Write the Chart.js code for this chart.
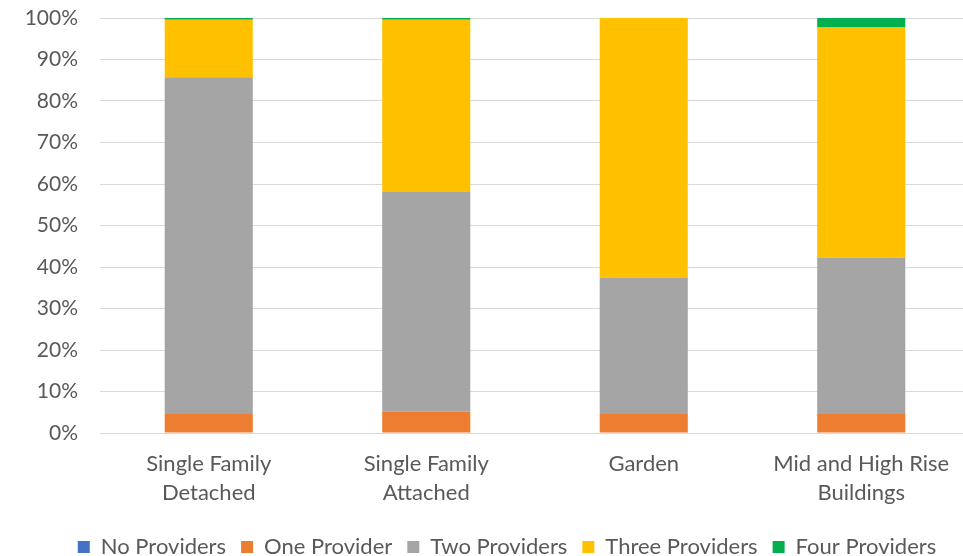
<!DOCTYPE html>
<html>
<head>
<meta charset="utf-8">
<script src="https://cdn.jsdelivr.net/npm/chart.js@4"></script>
<style>
html,body{margin:0;padding:0;background:#fff;overflow:hidden;}
#wrap{width:970px;height:556px;position:relative;}
</style>
</head>
<body>
<div id="wrap"><canvas id="c" width="970" height="556"></canvas></div>
<script>
const categories = [["Single Family","Detached"],["Single Family","Attached"],["Garden"],["Mid and High Rise","Buildings"]];
const seriesNames = ["No Providers","One Provider","Two Providers","Three Providers","Four Providers"];
const noProviders = [0, 0, 0, 0];
const oneProvider = [4.6, 5.1, 4.6, 4.6];
const twoProviders = [81.1, 53.0, 32.9, 37.7];
const threeProviders = [13.9, 41.5, 62.5, 55.4];
const fourProviders = [0.4, 0.4, 0, 2.3];
const colors = ["#4472C4","#ED7D31","#A5A5A5","#FFC000","#00B050"];
const yTicks = [0,10,20,30,40,50,60,70,80,90,100];

const FONT = "Lato, 'Open Sans', sans-serif";
const seriesData = [noProviders, oneProvider, twoProviders, threeProviders, fourProviders];

new Chart(document.getElementById('c'), {
  type: 'bar',
  data: {
    labels: categories,
    datasets: seriesData.map((d,i)=>({
      label: seriesNames[i],
      data: d,
      backgroundColor: colors[i],
      borderWidth: 0,
      barPercentage: 0.405,
      categoryPercentage: 1.0
    }))
  },
  options: {
    responsive: false,
    animation: false,
    layout: { padding: { top: 18, right: 0, left: 0, bottom: -12 } },
    plugins: {
      legend: {
        position: 'bottom',
        align: 'center',
        labels: {
          boxWidth: 12, boxHeight: 12, padding: 15,
          color: '#595959',
          font: { family: FONT, size: 22 }
        }
      },
      tooltip: { enabled: false }
    },
    scales: {
      x: {
        stacked: true,
        afterFit: s => { s.height = 88; },
        grid: { display: false, drawTicks: false },
        border: { display: true, color: '#D9D9D9', width: 1 },
        ticks: { color: '#595959', font: { family: FONT, size: 22, lineHeight: 1.32 }, padding: 16, maxRotation: 0 }
      },
      y: {
        stacked: true,
        min: 0, max: 100,
        afterBuildTicks: s => { s.ticks = yTicks.map(v=>({value:v})); },
        afterFit: s => { s.width = 100; s.paddingTop = 0; s.paddingBottom = 0; },
        grid: { color: '#D9D9D9', lineWidth: 1, drawTicks: false },
        border: { display: false },
        ticks: { color: '#595959', font: { family: FONT, size: 21 }, padding: 22, callback: v => v + '%' }
      }
    }
  },
  plugins: [{
    id: 'legendShift',
    afterLayout(chart){ const l = chart.legend; if (l) { l.left += 22; l.right += 22; } }
  }]
});
</script>
</body>
</html>
